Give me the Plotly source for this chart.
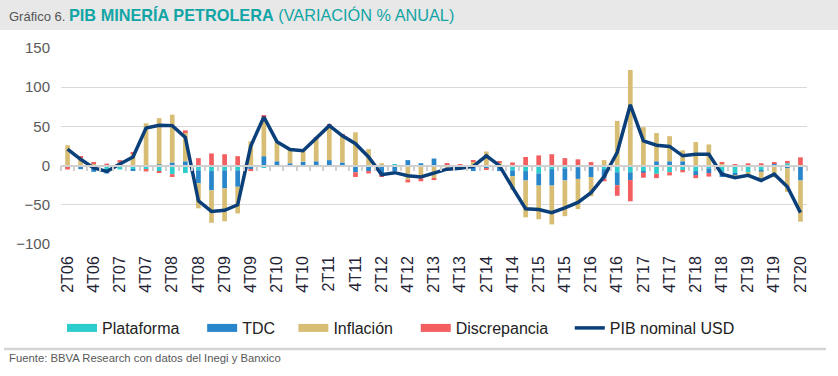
import plotly.graph_objects as go

quarters = [
    "2T06", "3T06", "4T06", "1T07", "2T07", "3T07", "4T07", "1T08", "2T08", "3T08",
    "4T08", "1T09", "2T09", "3T09", "4T09", "1T10", "2T10", "3T10", "4T10", "1T11",
    "2T11", "3T11", "4T11", "1T12", "2T12", "3T12", "4T12", "1T13", "2T13", "3T13",
    "4T13", "1T14", "2T14", "3T14", "4T14", "1T15", "2T15", "3T15", "4T15", "1T16",
    "2T16", "3T16", "4T16", "1T17", "2T17", "3T17", "4T17", "1T18", "2T18", "3T18",
    "4T18", "1T19", "2T19", "3T19", "4T19", "1T20", "2T20",
]
tick_labels = [
    "2T06", "4T06", "2T07", "4T07", "2T08", "4T08", "2T09", "4T09", "2T10", "4T10",
    "2T11", "4T11", "2T12", "4T12", "2T13", "4T13", "2T14", "4T14", "2T15", "4T15",
    "2T16", "4T16", "2T17", "4T17", "2T18", "4T18", "2T19", "4T19", "2T20",
]

plataforma = [
    -1, 0, -2, -7, -5, -5, -5, -7, -11, -9.5,
    -6, -7, -6, -6, -3, -3, 0, 0, -1, -1,
    0, -1, 0, 0, 0, 1.5, 0, 0, 0, 0,
    0, 0, 0, 0, -6, -7, -10, -4.5, -3.5, -2,
    -1.5, -4.5, -8.5, -8.5, -7, -10.5, -8.5, -6, -7, -3.5,
    -7.5, -10, -8.5, -6, 0, 3, 0,
]
tdc = [
    -2, -4.5, -6, -3, 0, -1.5, 0, 1.5, 4, 5.5,
    -16.5, -24.5, -23, -21, -1.5, 12, 5.5, 3, 5, 5.5,
    7, 4, -8.5, -7, -12, -7, 7, 3, 9, 1,
    -1, -7, -4, -7, -7.5, -12, -15.5, -21, -15.5, -15,
    -13, -12, -16.5, -10, -2, 5.5, 5.5, 5.5, -5, -6,
    -7, -2.5, 0, -1.5, 3, -3.5, -19,
]
inflacion = [
    26, 10, 3, 0, 4, 16, 54, 59, 61, 37,
    -32, -41.5, -42, -34, 31, 49, 25, 17, 13, 29,
    44, 35, 42.5, 21, 3, 0, -18, -16.5, -16, -3.5,
    -1, 5, 18, 3.5, -17.5, -47, -43, -49.5, -45.5, -38.5,
    -24.5, 7, 57, 122, 49, 36, 32, 14, 30, 27,
    3, -1.5, -2.5, -9.5, -15, -30, -52.5,
]
discrepancia = [
    -2, 2, 1, 2.5, 3, 1, -2.5, -2.5, -3.5, 2.5,
    9.5, 15.5, 14.5, 12, -2.5, 3.5, 0, 0, 0, 1,
    1, 1.5, -6, -3, -2.5, 0, -3.5, -3.5, -2.5, 1.5,
    1.5, 2, -1.5, 2, 4, 11, 13, 14.5, 9.5, 8,
    4.5, -3.5, -13.5, -27, -6.5, -5.5, -4, -2.5, -4, -4.5,
    1.5, 1.5, 3, 3, 1.5, 3, 10.5,
]
pib_usd = [
    21, 8, -3, -7.5, 2, 11, 48, 51.5, 51, 36,
    -45, -58.5, -57, -50, 25, 62, 30.5, 20.5, 19, 35,
    51, 38, 28, 11, -11.5, -9, -13, -14.5, -9.5, -4.5,
    -3.5, -1, 12.5, 0, -28, -55, -56, -60, -54, -47,
    -34.5, -14, 17, 77.5, 31.5, 26, 24.5, 12.5, 14.5, 14.5,
    -11, -15.5, -12.5, -19, -11, -27, -60,
]

FONT = "Liberation Sans, Arial, sans-serif"
W, H = 838, 376
ML, MR, MT, MB = 61, 31, 48, 132
PW, PH = W - ML - MR, H - MT - MB
NB = "\u00a0"


def px_x(p):
    return (p - ML) / PW


def px_y(p):
    return (H - MB - p) / PH


fig = go.Figure()
bar_series = [
    ("Plataforma", plataforma, "#2dcccd", NB * 4),
    ("TDC", tdc, "#2a86ca", NB * 3),
    ("Inflación", inflacion, "#d8be75", NB * 4),
    ("Discrepancia", discrepancia, "#f35e61", NB * 3 + "\u2009"),
]
for name, vals, col, pad in bar_series:
    fig.add_trace(go.Bar(x=quarters, y=vals, name=name, showlegend=False,
                         marker=dict(color=col, line=dict(width=0))))

fig.add_trace(go.Scatter(
    x=quarters, y=pib_usd, name="PIB nominal USD", mode="lines",
    line=dict(color="#0b3f7a", width=3.5), xaxis="x2", yaxis="y", showlegend=False,
))

# legend entries (wide colour keys like the original)
for name, vals, col, pad in bar_series:
    fig.add_trace(go.Scatter(x=[None], y=[None], mode="lines", name=name + pad,
                             line=dict(color=col, width=8), showlegend=True))
fig.add_trace(go.Scatter(x=[None], y=[None], mode="lines", name="PIB nominal USD",
                         line=dict(color="#0b3f7a", width=3.5), showlegend=True))

fig.update_layout(
    width=W, height=H,
    margin=dict(l=ML, r=MR, t=MT, b=MB),
    paper_bgcolor="white", plot_bgcolor="white",
    font=dict(family=FONT),
    barmode="relative", bargap=0.64,
    showlegend=True,
    legend=dict(
        orientation="h", x=px_x(62), xanchor="left", y=px_y(328), yanchor="middle",
        font=dict(size=16, color="#222222", family=FONT), traceorder="normal",
        itemwidth=30,
    ),
    xaxis=dict(
        type="category", categoryorder="array", categoryarray=quarters,
        range=[-0.5, len(quarters) - 0.5],
        tickmode="array", tickvals=tick_labels, ticktext=tick_labels,
        tickangle=-90, tickfont=dict(size=16, color="#1f2333"),
        showgrid=False, showline=False, zeroline=False, ticks="",
        ticklabelstandoff=8,
    ),
    xaxis2=dict(
        type="category", overlaying="x", matches="x", anchor="free", position=0.4,
        showline=True, linecolor="#d0d0d0", linewidth=1.5,
        ticks="outside", ticklen=5, tickcolor="#d0d0d0", tickwidth=1.5,
        tickson="boundaries", tickmode="linear", tick0=0, dtick=1,
        showticklabels=False, showgrid=False, zeroline=False,
    ),
    yaxis=dict(
        range=[-100, 150], tickvals=[-100, -50, 0, 50, 100, 150],
        tickfont=dict(size=15, color="#595959"),
        gridcolor="#d9d9d9", gridwidth=1, zeroline=False, showline=False,
        ticks="", ticklabelstandoff=10,
    ),
    shapes=[
        dict(type="rect", xref="paper", yref="paper",
             x0=px_x(0), x1=px_x(W), y0=px_y(30), y1=px_y(0),
             fillcolor="#e8e8e8", line=dict(width=0), layer="below"),
        dict(type="line", xref="paper", yref="paper",
             x0=px_x(4), x1=px_x(826), y0=px_y(349), y1=px_y(349),
             line=dict(color="#d4d4d4", width=2.5)),
    ],
    annotations=[
        dict(xref="paper", yref="paper", x=px_x(7), y=px_y(15), xanchor="left", yanchor="middle",
             showarrow=False,
             text=("<span style='font-size:13px;color:#555555'>Gráfico 6. </span>"
                   "<span style='font-size:16.3px;color:#11a5a5'><b>PIB MINERÍA PETROLERA</b>"
                   " (VARIACIÓN % ANUAL)</span>"),
             font=dict(family=FONT, size=16, color="#11a5a5")),
        dict(xref="paper", yref="paper", x=px_x(7), y=px_y(358), xanchor="left", yanchor="middle",
             showarrow=False, text="Fuente: BBVA Research con datos del Inegi y Banxico",
             font=dict(family=FONT, size=11.3, color="#595959")),
    ],
)

fig.write_html("out.html", config={"displayModeBar": False},
               post_script="document.body.style.margin='0px';")
